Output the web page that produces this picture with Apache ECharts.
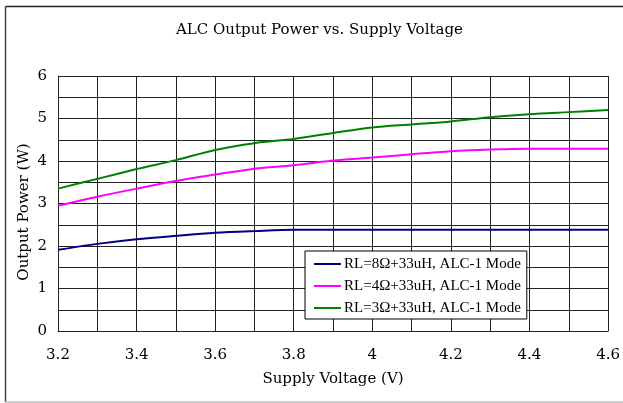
<!DOCTYPE html>
<html>
<head>
<meta charset="utf-8">
<script src="https://cdn.jsdelivr.net/npm/echarts@6/dist/echarts.min.js"></script>
<style>html,body{margin:0;padding:0;background:#fff;}#c{width:623px;height:403px;}</style>
</head>
<body>
<div id="c"></div>
<script>
var titleText = 'ALC Output Power vs. Supply Voltage';
var xName = 'Supply Voltage (V)';
var yName = 'Output Power (W)';
var voltage = [3.2, 3.3, 3.4, 3.5, 3.6, 3.7, 3.8, 3.9, 4.0, 4.1, 4.2, 4.3, 4.4, 4.5, 4.6];
var seriesNames = ['RL=8Ω+33uH, ALC-1 Mode', 'RL=4Ω+33uH, ALC-1 Mode', 'RL=3Ω+33uH, ALC-1 Mode'];
var rl8 = [1.91, 2.05, 2.16, 2.24, 2.31, 2.35, 2.38, 2.38, 2.38, 2.38, 2.38, 2.38, 2.38, 2.38, 2.38];
var rl4 = [2.95, 3.16, 3.35, 3.53, 3.68, 3.82, 3.90, 4.01, 4.08, 4.16, 4.23, 4.27, 4.29, 4.29, 4.29];
var rl3 = [3.35, 3.58, 3.81, 4.02, 4.26, 4.42, 4.52, 4.66, 4.79, 4.86, 4.93, 5.03, 5.10, 5.15, 5.20];
var colors = ['#000080', '#ff00ff', '#008000'];

function pairs(ys) { return voltage.map(function (x, i) { return [x, ys[i]]; }); }

var font = '"Liberation Serif", "DejaVu Serif", serif';
var wide = '"DejaVu Serif", "Liberation Serif", serif';
var chart = echarts.init(document.getElementById('c'), null, {renderer: 'canvas'});
var allData = [rl8, rl4, rl3];
chart.setOption({
  animation: false,
  backgroundColor: '#fff',
  title: {
    text: titleText, left: 171, top: 18,
    textStyle: {fontFamily: wide, fontSize: 15, fontWeight: 'normal', color: '#000'}
  },
  graphic: [
    {type: 'line', shape: {x1: 5.5, y1: 6.5, x2: 623, y2: 6.5}, style: {stroke: '#222', lineWidth: 1.5}, silent: true},
    {type: 'line', shape: {x1: 5.5, y1: 6.5, x2: 5.5, y2: 402}, style: {stroke: '#444', lineWidth: 1.5}, silent: true},
    {type: 'line', shape: {x1: 5.5, y1: 402, x2: 623, y2: 402}, style: {stroke: '#bbb', lineWidth: 1.5}, silent: true},
    {type: 'text', x: 24, y: 212, rotation: Math.PI / 2, silent: true,
      style: {text: yName, fontFamily: wide, fontSize: 15, fill: '#000', align: 'center', verticalAlign: 'middle'}}
  ],
  grid: {left: 58, right: 13, top: 76, bottom: 72, containLabel: false},
  legend: {
    orient: 'vertical', left: 305, top: 251,
    padding: [2, 6, 0, 9],
    backgroundColor: '#fff', borderColor: '#000', borderWidth: 1,
    itemWidth: 27, itemHeight: 2, itemGap: 0,
    icon: 'rect',
    textStyle: {fontFamily: font, fontSize: 15, color: '#000', lineHeight: 22, padding: [0, 0, 0, -2]},
    data: seriesNames
  },
  xAxis: {
    type: 'value', min: 3.2, max: 4.6, interval: 0.2,
    name: xName, nameLocation: 'middle', nameGap: 41,
    nameTextStyle: {fontFamily: wide, fontSize: 15, color: '#000'},
    axisLine: {show: true, lineStyle: {color: '#222', width: 1}},
    axisTick: {show: false},
    axisLabel: {fontFamily: wide, fontSize: 15, color: '#000', margin: 17},
    splitLine: {show: true, lineStyle: {color: '#222', width: 1}},
    minorTick: {show: false, splitNumber: 2},
    minorSplitLine: {show: true, lineStyle: {color: '#222', width: 1}}
  },
  yAxis: {
    type: 'value', min: 0, max: 6, interval: 1,
    axisLine: {show: true, lineStyle: {color: '#222', width: 1}},
    axisTick: {show: false},
    axisLabel: {fontFamily: wide, fontSize: 15, color: '#000', margin: 11},
    splitLine: {show: true, lineStyle: {color: '#222', width: 1}},
    minorTick: {show: false, splitNumber: 2},
    minorSplitLine: {show: true, lineStyle: {color: '#222', width: 1}}
  },
  series: seriesNames.map(function (n, i) {
    return {
      name: n, type: 'line', data: pairs(allData[i]),
      smooth: 0.3, showSymbol: false, symbol: 'none',
      lineStyle: {color: colors[i], width: 2}, itemStyle: {color: colors[i]}
    };
  })
});
</script>
</body>
</html>
